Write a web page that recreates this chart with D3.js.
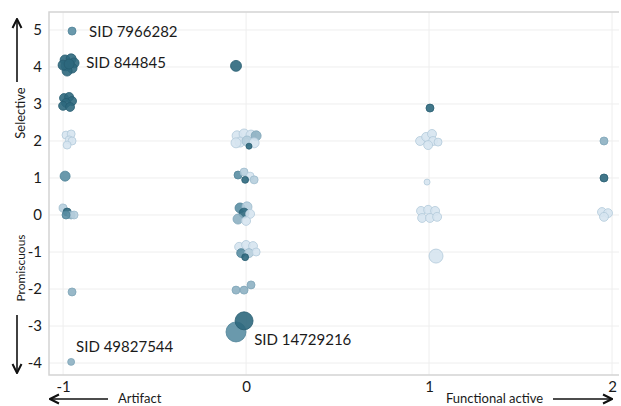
<!DOCTYPE html>
<html>
<head>
<meta charset="utf-8">
<script src="https://cdn.jsdelivr.net/npm/d3@7"></script>
<style>
  body { margin: 0; background: #fff; }
  text { font-family: Lato, "Open Sans", sans-serif; fill: #1a1a1a; }
</style>
</head>
<body>
<div id="chart"></div>
<script>
// category of each compound (x) and selectivity score (y), jitter
const xVals = [
  -0.951, -0.989, -0.956, -0.940, -0.984, -0.951, -0.978, -1.0, -0.967,
  -0.995, -0.967, -0.951, -0.984, -1.0, -0.962,
  -0.984, -0.956, -0.967, -0.951, -0.978,
  -0.989,
  -1.0, -0.978, -0.956, -0.940, -0.984,
  -0.951, -0.956,
  -0.055,
  -0.049, -0.011, 0.027, 0.055, -0.033, 0.005, 0.044, -0.055, 0.016,
  -0.044, -0.011, 0.022, -0.005, 0.044,
  -0.033, 0.005, -0.011, 0.022, -0.044, 0.0,
  -0.038, 0.0, 0.038, -0.027, 0.016, 0.055, -0.005,
  -0.055, -0.011, 0.027,
  -0.055, -0.011,
  1.005,
  0.951, 0.984, 1.016, 1.022, 1.049, 0.995,
  0.989,
  0.956, 0.995, 1.033, 0.962, 1.005, 1.044,
  1.038,
  1.956, 1.956,
  1.945, 1.978, 1.956
];
const yVals = [
  4.97, 4.19, 4.22, 4.11, 4.03, 3.97, 3.89, 4.05, 4.08,
  3.16, 3.19, 3.08, 3.03, 2.95, 2.92,
  2.16, 2.19, 2.03, 2.0, 1.89,
  1.05,
  0.19, 0.08, 0.0, 0.0, 0.0,
  -2.08, -3.97,
  4.03,
  2.14, 2.19, 2.16, 2.14, 1.97, 2.0, 1.95, 1.95, 1.86,
  1.08, 1.16, 1.05, 0.95, 0.95,
  0.19, 0.22, 0.05, 0.03, -0.11, -0.16,
  -0.86, -0.81, -0.84, -1.03, -1.03, -1.0, -1.14,
  -2.03, -2.03, -1.89,
  -3.16, -2.86,
  2.89,
  2.0, 2.11, 2.19, 2.0, 1.97, 1.89,
  0.89,
  0.11, 0.14, 0.11, -0.08, -0.08, -0.05,
  -1.11,
  2.0, 1.0,
  0.08, 0.05, -0.05
];
// bubble weight (area)
const sizes = [
  16, 25, 25, 25, 25, 25, 25, 25, 25,
  20, 20, 20, 20, 20, 20,
  16, 16, 16, 16, 16,
  25,
  16, 16, 16, 16, 16,
  16, 12,
  30,
  25, 25, 25, 25, 25, 25, 25, 25, 9,
  16, 16, 16, 12, 16,
  25, 25, 25, 20, 25, 20,
  20, 20, 20, 20, 20, 16, 12,
  16, 16, 16,
  100, 81,
  16,
  20, 20, 20, 20, 16, 20,
  9,
  20, 20, 20, 20, 20, 20,
  49,
  16, 16,
  20, 20, 20
];
// colour level 0 (palest) .. 4 (darkest)
const shades = [
  3, 4, 4, 4, 4, 4, 4, 4, 4,
  4, 4, 4, 4, 4, 4,
  0, 0, 0, 0, 0,
  3,
  1, 4, 2, 1, 3,
  2, 2,
  4,
  0, 0, 0, 2, 0, 1, 0, 0, 4,
  3, 1, 0, 4, 1,
  3, 1, 4, 0, 2, 0,
  0, 0, 0, 3, 1, 0, 4,
  2, 2, 2,
  3, 4,
  4,
  0, 0, 0, 0, 0, 0,
  0,
  0, 0, 0, 0, 0, 0,
  0,
  2, 4,
  0, 0, 0
];

const labelText = ["SID 7966282", "SID 844845", "SID 49827544", "SID 14729216"];
const labelX = [-0.858, -0.874, -0.929, 0.044];
const labelY = [4.95, 4.12, -3.57, -3.38];

const xTicks = [-1, 0, 1, 2];
const yTicks = [5, 4, 3, 2, 1, 0, -1, -2, -3, -4];

const width = 621, height = 406;
const plotLeft = 49, plotRight = 619, plotTop = 12, plotBottom = 375;

const svg = d3.select("#chart").append("svg")
  .attr("width", width)
  .attr("height", height);

const x = d3.scaleLinear().domain([-1.077, 2.038]).range([plotLeft, plotRight]);
const y = d3.scaleLinear().domain([-4.324, 5.486]).range([plotBottom, plotTop]);
const r = d3.scaleSqrt().domain([0, 100]).range([0, 10]);
const color = d3.scaleOrdinal()
  .domain([0, 1, 2, 3, 4])
  .range(["#d6e4ef", "#b6cedd", "#8db0c2", "#5a8ea3", "#2e687d"]);
const stroke = d3.scaleOrdinal()
  .domain([0, 1, 2, 3, 4])
  .range(["#b3cadb", "#9dbbcd", "#7ea4b7", "#4f8398", "#275d71"]);

// gridlines
svg.append("g").selectAll("line")
  .data(yTicks)
  .enter().append("line")
  .attr("x1", plotLeft).attr("x2", plotRight)
  .attr("y1", d => y(d)).attr("y2", d => y(d))
  .attr("stroke", "#eeeeee");

svg.append("g").selectAll("line")
  .data(xTicks)
  .enter().append("line")
  .attr("x1", d => x(d)).attr("x2", d => x(d))
  .attr("y1", plotTop).attr("y2", plotBottom)
  .attr("stroke", "#eeeeee");

// frame
svg.append("path")
  .attr("d", `M${plotRight},${plotTop}H${plotLeft}V${plotBottom}H${plotRight}`)
  .attr("fill", "none")
  .attr("stroke", "#d4d4d4")
  .attr("stroke-width", 1.5);

// axes (plain hyphen for negatives, like the original)
const yAxis = svg.append("g")
  .attr("transform", `translate(${plotLeft},0)`)
  .call(d3.axisLeft(y).tickValues(yTicks).tickFormat(d => String(d)).tickSize(0).tickPadding(7));
yAxis.select(".domain").remove();
yAxis.selectAll("text").style("font-size", "15px").attr("fill", "#1a1a1a");

const xAxis = svg.append("g")
  .attr("transform", `translate(0,${plotBottom})`)
  .call(d3.axisBottom(x).tickValues(xTicks).tickFormat(d => String(d)).tickSize(0).tickPadding(6));
xAxis.select(".domain").remove();
xAxis.selectAll("text").style("font-size", "15px").attr("fill", "#1a1a1a");

// points
const points = xVals.map((v, i) => ({ x: v, y: yVals[i], s: sizes[i], c: shades[i] }));
svg.append("g").selectAll("circle")
  .data(points)
  .enter().append("circle")
  .attr("cx", d => x(d.x))
  .attr("cy", d => y(d.y))
  .attr("r", d => r(d.s))
  .attr("fill", d => color(d.c))
  .attr("fill-opacity", 0.9)
  .attr("stroke", d => stroke(d.c))
  .attr("stroke-width", 0.8);

// SID labels
svg.append("g").selectAll("text")
  .data(labelText)
  .enter().append("text")
  .attr("x", (d, i) => x(labelX[i]))
  .attr("y", (d, i) => y(labelY[i]))
  .attr("dy", "0.35em")
  .style("font-size", "15px")
  .text(d => d);

// arrow markers
const defs = svg.append("defs");
defs.append("marker")
  .attr("id", "arrow")
  .attr("viewBox", "0 0 10 10")
  .attr("refX", 9).attr("refY", 5)
  .attr("markerWidth", 7).attr("markerHeight", 7)
  .attr("orient", "auto")
  .append("path")
  .attr("d", "M1,1L9,5L1,9")
  .attr("fill", "none")
  .attr("stroke", "#111")
  .attr("stroke-width", 1.8);

function arrow(x1, y1, x2, y2) {
  svg.append("line")
    .attr("x1", x1).attr("y1", y1).attr("x2", x2).attr("y2", y2)
    .attr("stroke", "#111")
    .attr("stroke-width", 1.6)
    .attr("marker-end", "url(#arrow)");
}

// vertical axis titles
svg.append("text")
  .attr("transform", "translate(25,113) rotate(-90)")
  .attr("text-anchor", "middle")
  .style("font-size", "13px")
  .text("Selective");
arrow(17, 82, 17, 19);

svg.append("text")
  .attr("transform", "translate(25,268) rotate(-90)")
  .attr("text-anchor", "middle")
  .style("font-size", "12px")
  .text("Promiscuous");
arrow(17, 315, 17, 373);

// horizontal axis titles
svg.append("text")
  .attr("x", 118).attr("y", 403)
  .style("font-size", "13px")
  .text("Artifact");
arrow(108, 399, 50, 399);

svg.append("text")
  .attr("x", 446).attr("y", 403)
  .style("font-size", "13px")
  .text("Functional active");
arrow(553, 399, 612, 399);
</script>
</body>
</html>
